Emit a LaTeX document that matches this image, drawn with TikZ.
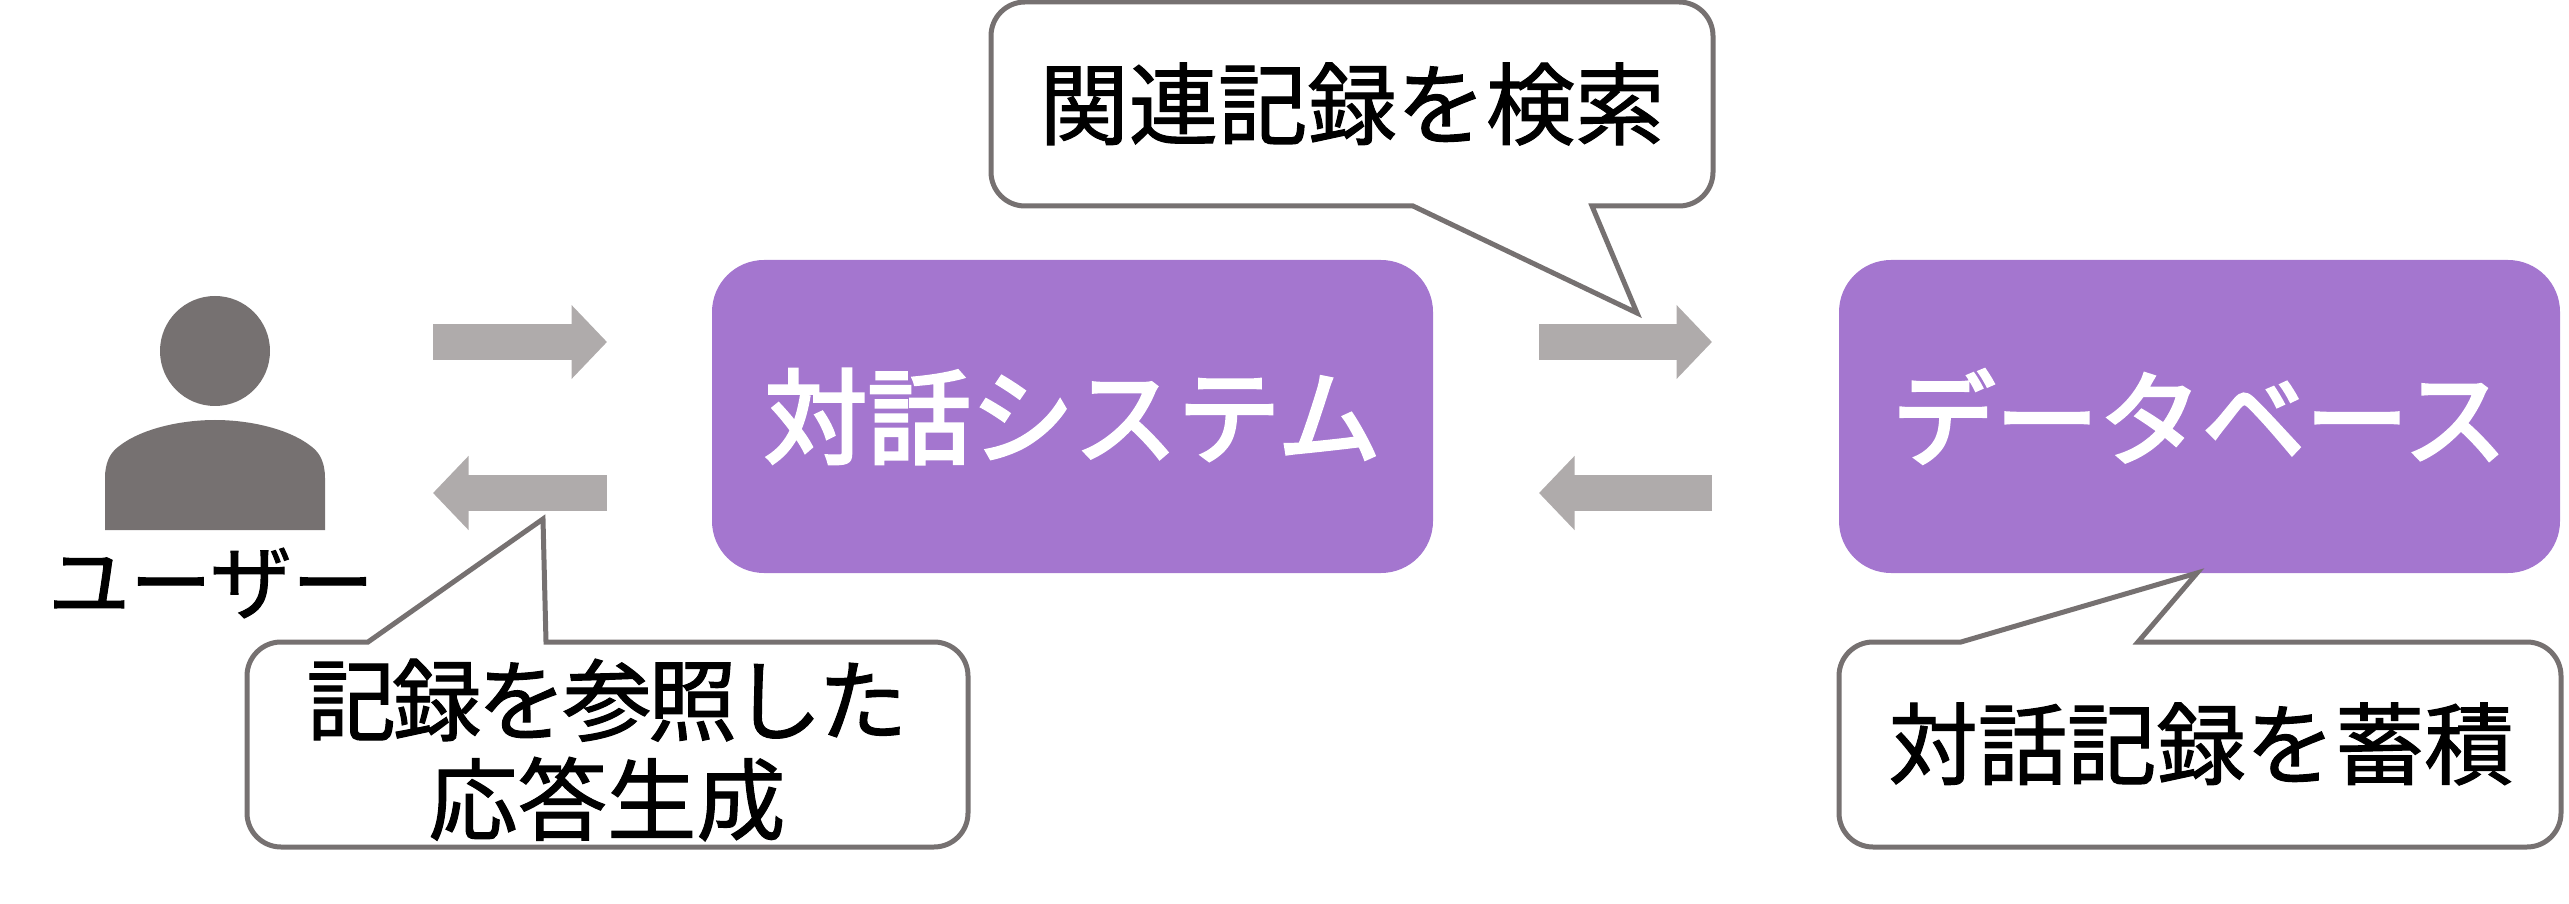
\documentclass[tikz,border=0pt]{standalone}
\usepackage{fontspec}
\usepackage{tikz}
\usetikzlibrary{arrows.meta}
\setmainfont[FakeBold=1.2]{Noto Sans CJK JP}
\newfontfamily\cardfont[FakeBold=3]{Noto Sans CJK JP}
\definecolor{cardpurple}{HTML}{A476CF}
\definecolor{flowgray}{HTML}{AFABAB}
\definecolor{personGray}{HTML}{767171}
\tikzset{
	card/.style={fill=cardpurple, rounded corners=.52cm, text=white, inner sep=0pt, minimum width=7.21cm, minimum height=3.13cm, font=\cardfont\fontsize{29.4}{29.4}\selectfont},
	flow/.style={draw=flowgray, line width=.36cm, -{Triangle[length=.355cm, width=.72cm, fill=flowgray]}},
	balloon/.style={draw=personGray, line width=.05cm, fill=white, line join=miter},
	note/.style={align=center, inner sep=0pt, font=\fontsize{25.4}{28.3}\selectfont},
}
\begin{document}
\begin{tikzpicture}
	\useasboundingbox (0,0) rectangle (25.69,9.03);
	
	\fill[personGray] (2.15,5.52) circle[radius=.55];
	\fill[personGray] (1.05,3.73) -- (1.05,4.25) .. controls (1.05,4.4) and (1.1,4.5) .. (1.18,4.56) .. controls (1.4,4.74) and (1.8,4.83) .. (2.15,4.83) .. controls (2.5,4.83) and (2.9,4.74) .. (3.12,4.56) .. controls (3.2,4.5) and (3.25,4.4) .. (3.25,4.25) -- (3.25,3.73) -- cycle;
	\node[inner sep=0pt, font=\fontsize{23.3}{23.3}\selectfont] (user) at (2.11,3.2) {ユーザー};
	
	\node[card] (sys) at (10.725,4.865) {\raisebox{.03cm}{対話システム}};
	\node[card] (db) at (21.995,4.865) {\raisebox{.03cm}{データベース}};
	
	\coordinate (userOut) at (4.33,5.61);
	\coordinate (sysIn) at (6.07,5.61);
	\coordinate (sysOut) at (6.07,4.10);
	\coordinate (userIn) at (4.33,4.10);
	\coordinate (sysOutB) at (15.39,5.61);
	\coordinate (dbIn) at (17.12,5.61);
	\coordinate (dbOut) at (17.12,4.10);
	\coordinate (sysInB) at (15.39,4.10);
	
	\draw[flow] (userOut) -- (sysIn);
	\draw[flow] (sysOut) -- (userIn);
	\draw[flow] (sysOutB) -- (dbIn);
	\draw[flow] (dbOut) -- (sysInB);
	
	\draw[balloon, rounded corners=.34cm] (14.13,6.97) -- (9.91,6.97) -- (9.91,9.01) -- (17.13,9.01) -- (17.13,6.97) [sharp corners] -- (15.92,6.97) -- (16.37,5.9) -- cycle;
	\node[note] (find) at (13.52,7.99) {関連記録を検索};
	
	\draw[balloon, rounded corners=.34cm] (3.68,2.61) -- (2.47,2.61) -- (2.47,.56) -- (9.68,.56) -- (9.68,2.61) [sharp corners] -- (5.46,2.61) -- (5.43,3.84) -- cycle;
	\node[note] (reply) at (6.07,1.53) {{\addfontfeature{LetterSpace=-4.5}記録を参照した}\\応答生成};
	
	\draw[balloon, rounded corners=.34cm] (19.61,2.61) -- (18.39,2.61) -- (18.39,.56) -- (25.61,.56) -- (25.61,2.61) [sharp corners] -- (21.38,2.61) -- (21.97,3.3) -- cycle;
	\node[note] (store) at (22.01,1.59) {対話記録を蓄積};
\end{tikzpicture}
\end{document}
